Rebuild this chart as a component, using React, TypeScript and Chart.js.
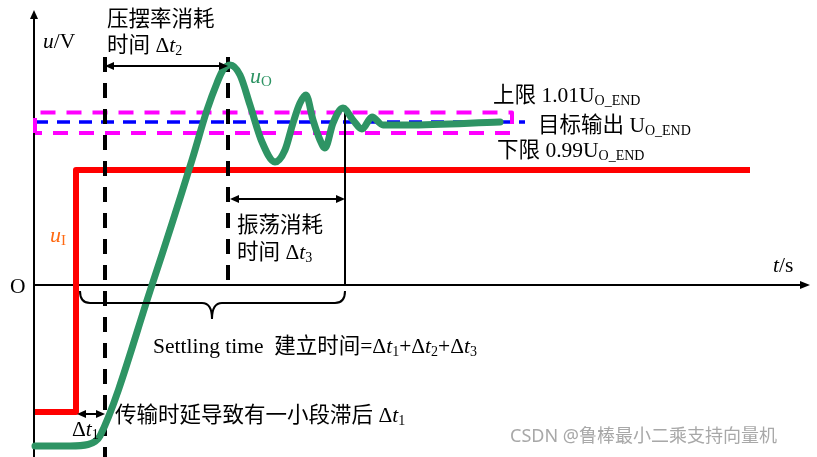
import React, { useEffect, useRef } from "react";
import { Chart, registerables } from "chart.js";
Chart.register(...registerables);

// axis ranges (t in 0.1 s-ish units, u in volts-ish units)
const T_MIN = -3.4;
const T_MAX = 78.3;
const U_MIN = -17.2;
const U_MAX = 28.5;
const AXIS_T_END = 77.6;
const AXIS_U_END = 27.5;

// output voltage u_O
const greenT = [0.1, 3.6, 5.4, 6.1, 6.6, 11.8, 15.8, 17.3, 18.3, 18.9, 19.6, 20.6, 21.6, 22.8, 24.1, 25.1, 25.9, 26.6, 27.2, 27.9, 28.6, 29.1, 29.9, 30.9, 31.9, 32.8, 33.8, 34.9, 37.3, 46.6];
const greenU = [-16.1, -16.1, -15.95, -15.65, -15.1, 0, 12.5, 17.5, 20.2, 21.5, 22.0, 21.0, 18.0, 14.3, 12.3, 13.5, 16.2, 18.2, 19.0, 16.5, 14.5, 13.7, 16.2, 17.7, 16.5, 15.6, 16.8, 16.0, 16.0, 16.3];

// input step u_I
const redT = [0.1, 4.2, 4.2, 71.6];
const redU = [-12.7, -12.7, 11.5, 11.5];

// limits
const upperLimit = 17.25;
const lowerLimit = 15.2;
const targetLevel = 16.3;
const bandStartT = 0.1;
const bandEndT = 47.8;
const targetEndT = 49.1;

// time markers
const delayT = 7.1;
const peakT = 19.4;
const settleT = 31.1;
const markerTopU = 22.8;
const settleTopU = 17.3;

// dimension arrows [t1, t2, u]
const arrowDt1 = [4.3, 7.1, -12.9];
const arrowDt2 = [7.1, 19.4, 21.9];
const arrowDt3 = [19.6, 31.1, 8.6];

// brace [tStart, tEnd, uTop, uMid, tTip, uTip]
const brace = [4.6, 31.1, -0.6, -1.8, 17.8, -3.4];

type Part = [string, string];
const labelT = [7.3, 7.3, 0.9, 21.6, 45.9, 50.4, 46.3, 1.6, 20.3, 20.3, -2.4, 73.9, 11.9, 8.1, 3.8];
const labelU = [25.9, 23.3, 23.7, 20.2, 18.3, 15.3, 12.8, 4.3, 5.3, 2.6, -0.8, 1.3, -6.8, -13.7, -15.1];
const labelColor = ["#000", "#000", "#000", "#2e9464", "#000", "#000", "#000", "#ff6a13", "#000", "#000", "#000", "#000", "#000", "#000", "#000"];
const labelParts: Part[][] = [
  [["压摆率消耗", "n"]],
  [["时间 Δ", "n"], ["t", "i"], ["2", "s"]],
  [["u", "i"], ["/V", "n"]],
  [["u", "i"], ["O", "s"]],
  [["上限 1.01U", "n"], ["O_END", "s"]],
  [["目标输出 U", "n"], ["O_END", "s"]],
  [["下限 0.99U", "n"], ["O_END", "s"]],
  [["u", "i"], ["I", "s"]],
  [["振荡消耗", "n"]],
  [["时间 Δ", "n"], ["t", "i"], ["3", "s"]],
  [["O", "n"]],
  [["t", "i"], ["/s", "n"]],
  [["Settling time  建立时间=Δ", "n"], ["t", "i"], ["1", "s"], ["+Δ", "n"], ["t", "i"], ["2", "s"], ["+Δ", "n"], ["t", "i"], ["3", "s"]],
  [["传输时延导致有一小段滞后 Δ", "n"], ["t", "i"], ["1", "s"]],
  [["Δ", "n"], ["t", "i"], ["1", "s"]],
];
const watermark = "CSDN @鲁棒最小二乘支持向量机";
const watermarkPos = [47.6, -15.7];

const FONT = '"Liberation Serif", "Noto Sans CJK SC", serif';

function pts(ts: number[], us: number[]) {
  return ts.map((t, i) => ({ x: t, y: us[i] }));
}

function drawRich(ctx: CanvasRenderingContext2D, x: number, y: number, parts: Part[], size: number, color: string) {
  let cx = x;
  ctx.fillStyle = color;
  ctx.textBaseline = "alphabetic";
  ctx.textAlign = "left";
  for (const [txt, st] of parts) {
    const sub = st.includes("s");
    const it = st.includes("i");
    const sz = sub ? Math.round(size * 0.66) : size;
    ctx.font = `${it ? "italic " : ""}${sz}px ${FONT}`;
    ctx.fillText(txt, cx, y + (sub ? size * 0.14 : 0));
    cx += ctx.measureText(txt).width;
  }
}

function head(ctx: CanvasRenderingContext2D, x: number, y: number, dx: number, dy: number, len: number, hw: number) {
  const px = -dy, py = dx;
  ctx.beginPath();
  ctx.moveTo(x, y);
  ctx.lineTo(x - dx * len + px * hw, y - dy * len + py * hw);
  ctx.lineTo(x - dx * len - px * hw, y - dy * len - py * hw);
  ctx.closePath();
  ctx.fill();
}

const overlay = {
  id: "overlay",
  beforeDatasetsDraw(chart: any) {
    const ctx: CanvasRenderingContext2D = chart.ctx;
    const X = (t: number) => chart.scales.x.getPixelForValue(t);
    const Y = (u: number) => chart.scales.y.getPixelForValue(u);
    ctx.save();
    ctx.strokeStyle = "#000";
    ctx.fillStyle = "#000";
    ctx.lineWidth = 2;
    ctx.beginPath();
    ctx.moveTo(X(0), Y(U_MIN));
    ctx.lineTo(X(0), Y(AXIS_U_END) + 6);
    ctx.moveTo(X(0), Y(0));
    ctx.lineTo(X(AXIS_T_END) - 8, Y(0));
    ctx.stroke();
    head(ctx, X(0), Y(AXIS_U_END), 0, -1, 9, 4);
    head(ctx, X(AXIS_T_END), Y(0), 1, 0, 10, 4);
    ctx.restore();
  },
  afterDatasetsDraw(chart: any) {
    const ctx: CanvasRenderingContext2D = chart.ctx;
    const X = (t: number) => chart.scales.x.getPixelForValue(t);
    const Y = (u: number) => chart.scales.y.getPixelForValue(u);
    ctx.save();
    ctx.strokeStyle = "#000";
    ctx.fillStyle = "#000";
    ctx.lineWidth = 2;
    for (const a of [arrowDt1, arrowDt2, arrowDt3]) {
      const x1 = X(a[0]), x2 = X(a[1]), y = Y(a[2]);
      ctx.beginPath();
      ctx.moveTo(x1 + 6, y);
      ctx.lineTo(x2 - 6, y);
      ctx.stroke();
      head(ctx, x1, y, -1, 0, 9, 4);
      head(ctx, x2, y, 1, 0, 9, 4);
    }
    // brace
    const [b0, b1, bTop, bMid, bTipT, bTip] = brace;
    const xa = X(b0), xb = X(b1), xt = X(bTipT);
    const yTop = Y(bTop), yMid = Y(bMid), yTip = Y(bTip);
    const r = 10;
    ctx.lineWidth = 2;
    ctx.beginPath();
    ctx.moveTo(xa, yTop);
    ctx.quadraticCurveTo(xa, yMid, xa + r, yMid);
    ctx.lineTo(xt - r, yMid);
    ctx.quadraticCurveTo(xt, yMid, xt, yTip);
    ctx.quadraticCurveTo(xt, yMid, xt + r, yMid);
    ctx.lineTo(xb - r, yMid);
    ctx.quadraticCurveTo(xb, yMid, xb, yTop);
    ctx.stroke();
    // labels
    for (let i = 0; i < labelParts.length; i++) {
      drawRich(ctx, X(labelT[i]), Y(labelU[i]), labelParts[i], i === 3 || i === 7 ? 22 : 21.5, labelColor[i]);
    }
    ctx.font = '18px "Noto Sans", "Noto Sans CJK SC", sans-serif';
    ctx.fillStyle = "#a8a8a8";
    ctx.textBaseline = "alphabetic";
    ctx.fillText(watermark, X(watermarkPos[0]), Y(watermarkPos[1]));
    ctx.restore();
  },
};

export default function App() {
  const ref = useRef<HTMLCanvasElement>(null);
  useEffect(() => {
    if (!ref.current) return;
    const base = { pointRadius: 0, fill: false, tension: 0, borderJoinStyle: "round" as const };
    const chart = new Chart(ref.current, {
      type: "line",
      data: {
        datasets: [
          {
            ...base,
            data: pts(greenT, greenU),
            borderColor: "#2e9464",
            borderWidth: 7,
            cubicInterpolationMode: "monotone",
            borderCapStyle: "round",
            order: 0,
          },
          {
            ...base,
            data: pts([bandStartT, bandStartT, bandEndT, bandEndT, bandStartT], [lowerLimit, upperLimit, upperLimit, lowerLimit, lowerLimit]),
            borderColor: "#ff00ff",
            borderWidth: 4,
            borderDash: [15, 11],
            order: 3,
          },
          {
            ...base,
            data: pts([bandStartT, targetEndT], [targetLevel, targetLevel]),
            borderColor: "#0000ff",
            borderWidth: 3.5,
            borderDash: [13, 9],
            order: 3,
          },
          {
            ...base,
            data: pts(redT, redU),
            borderColor: "#ff0000",
            borderWidth: 6,
            order: 4,
          },
          {
            ...base,
            data: pts([delayT, delayT], [markerTopU, U_MIN]),
            borderColor: "#000",
            borderWidth: 4,
            borderDash: [15, 11],
            order: 2,
          },
          {
            ...base,
            data: pts([peakT, peakT], [markerTopU, 0]),
            borderColor: "#000",
            borderWidth: 4,
            borderDash: [15, 11],
            order: 2,
          },
          {
            ...base,
            data: pts([settleT, settleT], [settleTopU, 0]),
            borderColor: "#000",
            borderWidth: 2,
            order: 2,
          },
        ],
      },
      options: {
        animation: false,
        responsive: false,
        devicePixelRatio: 1,
        layout: { padding: 0 },
        plugins: { legend: { display: false }, tooltip: { enabled: false } },
        scales: {
          x: { type: "linear", min: T_MIN, max: T_MAX, display: false },
          y: { type: "linear", min: U_MIN, max: U_MAX, display: false },
        },
      },
      plugins: [overlay],
    });
    return () => chart.destroy();
  }, []);
  return (
    <div style={{ position: "absolute", left: 0, top: 0, width: 817, height: 457, background: "#fff" }}>
      <canvas ref={ref} width={817} height={457} />
    </div>
  );
}
